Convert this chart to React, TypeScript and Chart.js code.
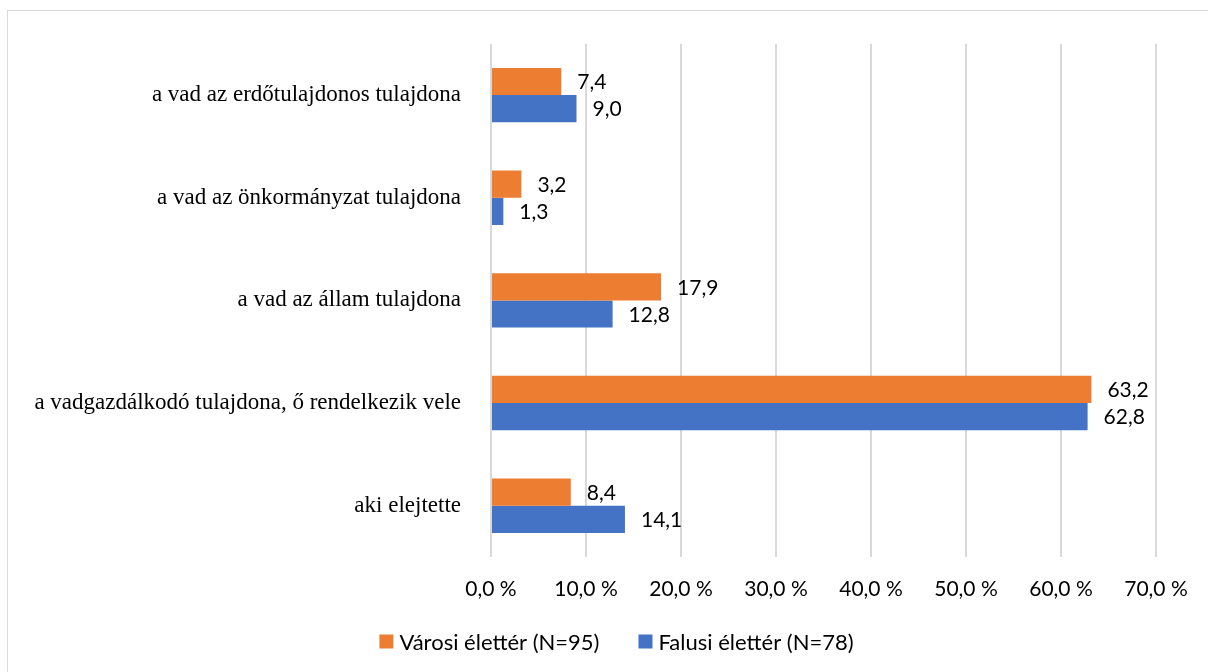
import React, { useEffect, useRef } from "react";
import { Chart, registerables } from "chart.js";

Chart.register(...registerables);

const categories = [
  "a vad az erdőtulajdonos tulajdona",
  "a vad az önkormányzat tulajdona",
  "a vad az állam tulajdona",
  "a vadgazdálkodó tulajdona, ő rendelkezik vele",
  "aki elejtette",
];
const varosiValues = [7.4, 3.2, 17.9, 63.2, 8.4];
const falusiValues = [9.0, 1.3, 12.8, 62.8, 14.1];
const seriesLabels = ["Városi élettér (N=95)", "Falusi élettér (N=78)"];
const seriesColors = ["#ED7D31", "#4472C4"];

const SANS = "Lato, 'Open Sans', sans-serif";
const SERIF = "'Liberation Serif', 'DejaVu Serif', serif";

const fmt = (v: number) => v.toFixed(1).replace(".", ",");

const framePlugin = {
  id: "frame",
  beforeDraw(chart: any) {
    const ctx = chart.ctx;
    ctx.save();
    ctx.fillStyle = "#ffffff";
    ctx.fillRect(0, 0, chart.width, chart.height);
    ctx.strokeStyle = "#d9d9d9";
    ctx.lineWidth = 1;
    ctx.strokeRect(7.5, 10.5, chart.width + 50, chart.height + 50);
    ctx.restore();
  },
};

const labelPlugin = {
  id: "valueLabels",
  afterDatasetsDraw(chart: any) {
    const ctx = chart.ctx;
    ctx.save();
    ctx.font = `21px ${SANS}`;
    ctx.fillStyle = "#000000";
    ctx.textAlign = "left";
    ctx.textBaseline = "middle";
    chart.data.datasets.forEach((ds: any, di: number) => {
      const meta = chart.getDatasetMeta(di);
      meta.data.forEach((el: any, i: number) => {
        ctx.fillText(fmt(ds.data[i]), el.x + 16, el.y + 1);
      });
    });
    ctx.restore();
  },
};

const legendPlugin = {
  id: "customLegend",
  afterDraw(chart: any) {
    const ctx = chart.ctx;
    ctx.save();
    ctx.font = `22px ${SANS}`;
    ctx.textBaseline = "middle";
    ctx.textAlign = "left";
    const box = 14;
    const gap = 6;
    const spacing = 39;
    const items = chart.data.datasets.map((ds: any) => ({
      text: ds.label,
      color: ds.backgroundColor,
      w: box + gap + ctx.measureText(ds.label).width,
    }));
    const total = items.reduce((s: number, it: any) => s + it.w, 0) + spacing * (items.length - 1);
    let x = 616.5 - total / 2;
    const cy = 641.5;
    items.forEach((it: any) => {
      ctx.fillStyle = it.color;
      ctx.fillRect(x, cy - box / 2, box, box);
      ctx.fillStyle = "#000000";
      ctx.fillText(it.text, x + box + gap, cy + 1);
      x += it.w + spacing;
    });
    ctx.restore();
  },
};

export default function App() {
  const ref = useRef<HTMLCanvasElement | null>(null);
  useEffect(() => {
    if (!ref.current) return;
    const chart = new Chart(ref.current, {
      type: "bar",
      data: {
        labels: categories,
        datasets: [
          {
            label: seriesLabels[0],
            data: varosiValues,
            backgroundColor: seriesColors[0],
            categoryPercentage: 0.53,
            barPercentage: 1,
          },
          {
            label: seriesLabels[1],
            data: falusiValues,
            backgroundColor: seriesColors[1],
            categoryPercentage: 0.53,
            barPercentage: 1,
          },
        ],
      },
      options: {
        indexAxis: "y",
        animation: false,
        responsive: false,
        devicePixelRatio: 1,
        layout: { padding: { top: 40, right: 52, bottom: 0, left: 0 } },
        plugins: {
          legend: { display: false },
          tooltip: { enabled: false },
        },
        scales: {
          x: {
            min: 0,
            max: 70,
            ticks: {
              stepSize: 10,
              padding: 20,
              color: "#000000",
              font: { family: SANS, size: 21 },
              callback: (v: any) => fmt(Number(v)) + " %",
            },
            grid: { color: "#d9d9d9", lineWidth: 2, drawTicks: false },
            border: { display: false },
            afterFit: (s: any) => {
              s.height = 115;
            },
          },
          y: {
            ticks: {
              padding: 30,
              color: "#000000",
              font: { family: SERIF, size: 23 },
            },
            grid: { display: false, drawTicks: false },
            border: { display: false },
            afterFit: (s: any) => {
              s.width = 491;
            },
          },
        },
      },
      plugins: [framePlugin, labelPlugin, legendPlugin],
    });
    return () => chart.destroy();
  }, []);
  return (
    <div style={{ position: "fixed", left: 0, top: 0, width: 1208, height: 672 }}>
      <canvas ref={ref} width={1208} height={672} style={{ width: 1208, height: 672 }} />
    </div>
  );
}
